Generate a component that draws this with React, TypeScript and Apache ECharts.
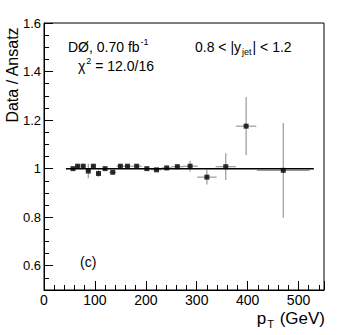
import React, { useEffect, useRef } from "react";
import * as echarts from "echarts";

const pT = [57, 66, 77, 87, 97, 107, 120, 135, 150, 164, 182, 202, 221, 241, 262, 287, 320, 357, 397, 470];
const ratio = [1.0, 1.01, 1.01, 0.99, 1.01, 0.98, 1.0, 0.985, 1.01, 1.01, 1.01, 1.0, 0.995, 1.003, 1.008, 1.01, 0.965, 1.008, 1.175, 0.993];
const yErr = [0.006, 0.01, 0.01, 0.03, 0.008, 0.014, 0.006, 0.008, 0.006, 0.006, 0.006, 0.006, 0.006, 0.008, 0.01, 0.022, 0.03, 0.055, 0.12, 0.195];
const xErr = [4, 4, 5, 5, 5, 5, 6, 7, 7, 8, 10, 10, 10, 10, 12, 15, 19, 20, 20, 52];
const refLineX = [43, 530];
const refValue = 1;
const yMajorTicks = [0.6, 0.8, 1.0, 1.2, 1.4, 1.6];

const FONT = "Liberation Sans, Arial, sans-serif";

export default function App() {
  const ref = useRef<HTMLDivElement>(null);
  useEffect(() => {
    document.body.style.margin = "0";
    const chart = echarts.init(ref.current!, null, { renderer: "svg" });
    const errData = pT.map((x, i) => [x, ratio[i], xErr[i], yErr[i]]);
    chart.setOption({
      animation: false,
      backgroundColor: "#fff",
      textStyle: { fontFamily: FONT },
      grid: { left: 44, right: 25, top: 23, bottom: 45, show: true, borderColor: "#000", borderWidth: 1, backgroundColor: "transparent" },
      xAxis: {
        type: "value", min: 0, max: 550, interval: 100,
        axisLine: { show: true, lineStyle: { color: "#000" } },
        axisTick: { inside: true, length: 9, lineStyle: { color: "#000" } },
        minorTick: { show: true, splitNumber: 5, length: 5, lineStyle: { color: "#000" } },
        splitLine: { show: false },
        axisLabel: { color: "#000", fontSize: 14, margin: 3, fontFamily: FONT, showMaxLabel: false },
      },
      yAxis: [
        {
          type: "value", min: 0.5, max: 1.6,
          axisLine: { show: true, lineStyle: { color: "#000" } },
          axisTick: { inside: true, length: 9, lineStyle: { color: "#000" }, customValues: yMajorTicks },
          splitLine: { show: false },
          axisLabel: {
            color: "#000", fontSize: 13, margin: 3, fontFamily: FONT,
            customValues: yMajorTicks,
            formatter: (v: number) => String(+v.toFixed(1)),
          },
        },
        {
          type: "value", min: 0.5, max: 1.6, interval: 0.05, position: "left",
          axisLine: { show: false },
          axisTick: { show: true, inside: true, length: 5, lineStyle: { color: "#000" } },
          splitLine: { show: false },
          axisLabel: { show: false },
        },
      ],
      series: [
        {
          type: "custom",
          data: errData,
          z: 2,
          renderItem: (params: any, api: any) => {
            const x = api.value(0), y = api.value(1), ex = api.value(2), ey = api.value(3);
            const p1 = api.coord([x - ex, y]);
            const p2 = api.coord([x + ex, y]);
            const p3 = api.coord([x, y - ey]);
            const p4 = api.coord([x, y + ey]);
            const st = { stroke: "#9a9a9a", lineWidth: 1.2 };
            return {
              type: "group",
              children: [
                { type: "line", shape: { x1: p1[0], y1: p1[1], x2: p2[0], y2: p2[1] }, style: st },
                { type: "line", shape: { x1: p3[0], y1: p3[1], x2: p4[0], y2: p4[1] }, style: st },
              ],
            };
          },
        },
        {
          type: "line",
          data: refLineX.map((x) => [x, refValue]),
          symbol: "none",
          lineStyle: { color: "#000", width: 1.5 },
          z: 3,
        },
        {
          type: "scatter",
          data: pT.map((x, i) => [x, ratio[i]]),
          symbol: "rect",
          symbolSize: 5,
          itemStyle: { color: "#000" },
          z: 4,
        },
      ],
      graphic: [
        {
          type: "text", x: 68, y: 47,
          style: {
            text: "{a|DØ, 0.70 fb}{s|-1}",
            verticalAlign: "middle",
            rich: {
              a: { fontSize: 14, fontFamily: FONT, fill: "#000" },
              s: { fontSize: 9, fontFamily: FONT, fill: "#000", padding: [0, 0, 10, 1] },
            },
          },
        },
        {
          type: "text", x: 78, y: 66,
          style: {
            text: "{a|χ}{s|2}{a| = 12.0/16}",
            verticalAlign: "middle",
            rich: {
              a: { fontSize: 14, fontFamily: FONT, fill: "#000" },
              s: { fontSize: 9, fontFamily: FONT, fill: "#000", padding: [0, 0, 10, 1] },
            },
          },
        },
        {
          type: "text", x: 195, y: 47,
          style: {
            text: "{a|0.8 < |y}{b|jet}{a|| < 1.2}",
            verticalAlign: "middle",
            rich: {
              a: { fontSize: 14, fontFamily: FONT, fill: "#000" },
              b: { fontSize: 9, fontFamily: FONT, fill: "#000", padding: [10, 1, 0, 1] },
            },
          },
        },
        {
          type: "text", x: 80, y: 262,
          style: { text: "(c)", fontSize: 14, fontFamily: FONT, fill: "#000", verticalAlign: "middle" },
        },
        {
          type: "text", x: 12, y: 75, rotation: Math.PI / 2,
          style: { text: "Data / Ansatz", fontSize: 16, fontFamily: FONT, fill: "#000", align: "center", verticalAlign: "middle" },
        },
        {
          type: "text", x: 325, y: 318,
          style: {
            text: "{a|p}{b|T}{a| (GeV)}",
            align: "right",
            verticalAlign: "middle",
            rich: {
              a: { fontSize: 17, fontFamily: FONT, fill: "#000" },
              b: { fontSize: 11, fontFamily: FONT, fill: "#000", padding: [12, 1, 0, 1] },
            },
          },
        },
      ],
    });
    return () => chart.dispose();
  }, []);
  return <div ref={ref} style={{ width: 349, height: 335 }} />;
}
